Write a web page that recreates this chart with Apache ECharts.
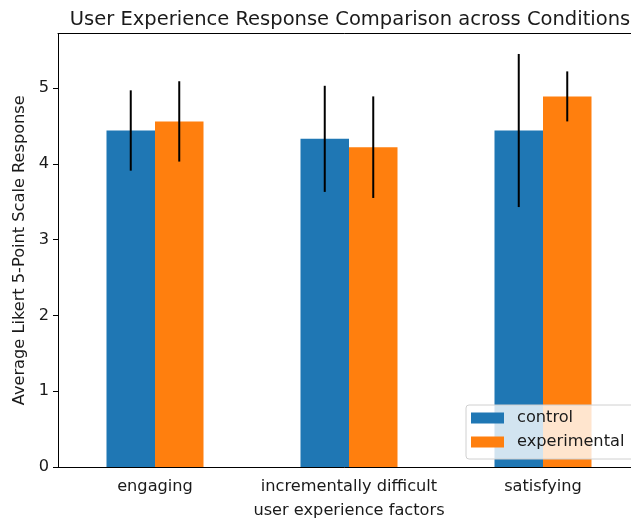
<!DOCTYPE html>
<html>
<head>
<meta charset="utf-8">
<script src="https://cdn.jsdelivr.net/npm/echarts@6/dist/echarts.min.js"></script>
<style>
  html, body { margin: 0; padding: 0; background: #fff; }
  #chart { width: 631px; height: 519px; }
</style>
</head>
<body>
<div id="chart"></div>
<script>
// Likert means and standard deviations per user experience factor
const categories = ['engaging', 'incrementally difficult', 'satisfying'];
const controlMean = [4.44, 4.33, 4.44];
const controlSd = [0.53, 0.70, 1.01];
const experimentalMean = [4.56, 4.22, 4.89];
const experimentalSd = [0.53, 0.67, 0.33];
const yTicks = [0, 1, 2, 3, 4, 5];
const yMax = 5.72;

const FONT = 'DejaVu Sans';
const TEXT = '#1a1a1a';
const LABEL_SIZE = 16.2;
const TITLE_SIZE = 19.5;

// Vertical error bar drawn at the centre of one half of a category slot
function errorBar(side) {
  return function (params, api) {
    const idx = api.value(0);
    const mean = api.value(1);
    const sd = api.value(2);
    const slot = api.size([1, 0])[0];
    const dx = side * slot * 0.125;
    const top = api.coord([idx, mean + sd]);
    const bottom = api.coord([idx, mean - sd]);
    return {
      type: 'line',
      shape: { x1: top[0] + dx, y1: top[1], x2: bottom[0] + dx, y2: bottom[1] },
      style: { stroke: '#000', lineWidth: 2 }
    };
  };
}

const chart = echarts.init(document.getElementById('chart'), null, { renderer: 'canvas' });

chart.setOption({
  animation: false,
  textStyle: { fontFamily: FONT },
  title: {
    text: 'User Experience Response Comparison across Conditions',
    left: 345,
    top: 5,
    textAlign: 'center',
    textStyle: { fontFamily: FONT, fontSize: TITLE_SIZE, fontWeight: 'normal', color: TEXT }
  },
  grid: {
    left: 58, right: -9, top: 33.5, bottom: 52,
    outerBoundsMode: 'none',
    containLabel: false,
    show: false
  },
  legend: {
    data: ['control', 'experimental'],
    orient: 'vertical',
    left: 466,
    top: 405,
    itemWidth: 33,
    itemHeight: 11,
    itemGap: 8,
    padding: [5, 20, 9, 5],
    backgroundColor: 'rgba(255,255,255,0.8)',
    borderColor: '#d0d0d0',
    borderWidth: 1,
    borderRadius: 3,
    icon: 'rect',
    textStyle: { fontFamily: FONT, fontSize: LABEL_SIZE, color: TEXT, lineHeight: 16, padding: [0, 0, 0, 8] }
  },
  xAxis: [
    {
      type: 'category',
      data: categories,
      name: 'user experience factors',
      nameLocation: 'middle',
      nameGap: 36,
      nameTextStyle: { fontFamily: FONT, fontSize: LABEL_SIZE, color: TEXT },
      axisLine: { lineStyle: { color: '#000', width: 1 } },
      axisTick: { alignWithLabel: true, length: 5, lineStyle: { color: '#000', width: 1 } },
      axisLabel: { fontFamily: FONT, fontSize: LABEL_SIZE, color: TEXT, margin: 12, interval: 0, hideOverlap: false },
      splitLine: { show: false }
    },
    {
      // top frame line of the plot area
      type: 'category',
      data: categories,
      position: 'top',
      axisLine: { show: true, lineStyle: { color: '#000', width: 1 } },
      axisTick: { show: false },
      axisLabel: { show: false },
      splitLine: { show: false }
    }
  ],
  yAxis: {
    type: 'value',
    min: 0,
    max: yMax,
    name: 'Average Likert 5-Point Scale Response',
    nameLocation: 'middle',
    nameGap: 28,
    nameTextStyle: { fontFamily: FONT, fontSize: LABEL_SIZE, color: TEXT },
    axisLine: { show: true, lineStyle: { color: '#000', width: 1 } },
    axisTick: { show: true, length: 5, customValues: yTicks, lineStyle: { color: '#000', width: 1 } },
    axisLabel: { fontFamily: FONT, fontSize: LABEL_SIZE, color: TEXT, margin: 9, customValues: yTicks },
    splitLine: { show: false }
  },
  series: [
    {
      name: 'control',
      type: 'bar',
      data: controlMean,
      barWidth: '25%',
      barGap: '0%',
      itemStyle: { color: '#1f77b4' },
      z: 2
    },
    {
      name: 'experimental',
      type: 'bar',
      data: experimentalMean,
      barWidth: '25%',
      barGap: '0%',
      itemStyle: { color: '#ff7f0e' },
      z: 2
    },
    {
      name: 'control error',
      type: 'custom',
      renderItem: errorBar(-1),
      data: controlMean.map((m, i) => [i, m, controlSd[i]]),
      encode: { x: 0, y: 1 },
      z: 3,
      silent: true
    },
    {
      name: 'experimental error',
      type: 'custom',
      renderItem: errorBar(1),
      data: experimentalMean.map((m, i) => [i, m, experimentalSd[i]]),
      encode: { x: 0, y: 1 },
      z: 3,
      silent: true
    }
  ]
});
</script>
</body>
</html>
